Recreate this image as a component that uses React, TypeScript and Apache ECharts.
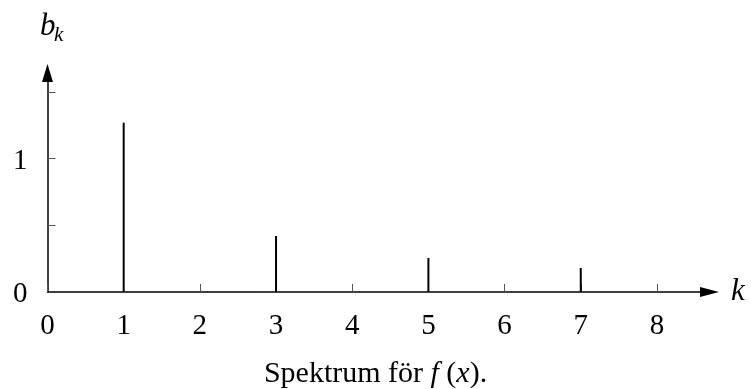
import React, { useEffect, useRef } from "react";
import * as echarts from "echarts";

const harmonics = [1, 3, 5, 7];
const amplitudes = [1.27, 0.42, 0.255, 0.18];
const xTickValues = [0, 1, 2, 3, 4, 5, 6, 7, 8];
const xLabelValues = [0, 1, 2, 3, 4, 5, 6, 7, 8];
const yTickValues = [0.5, 1, 1.5];
const yLabelValues = [0, 1];

const FONT = "Liberation Serif";

export default function App() {
  const ref = useRef<HTMLDivElement>(null);
  useEffect(() => {
    if (!ref.current) return;
    const chart = echarts.init(ref.current, undefined, { renderer: "svg" });
    chart.setOption({
      animation: false,
      grid: { left: 47.5, right: 41.5, top: 73, bottom: 97 },
      xAxis: {
        type: "value",
        min: 0,
        max: 8.69,
        axisLine: {
          show: true,
          onZero: true,
          symbol: ["none", "triangle"],
          symbolSize: [10, 19],
          lineStyle: { color: "#000", width: 1.5 },
        },
        axisTick: { show: true, inside: true, length: 8, customValues: xTickValues, lineStyle: { color: "#555", width: 1 } },
        axisLabel: { show: true, margin: 17, customValues: xLabelValues, fontFamily: FONT, fontSize: 29, color: "#000" },
        splitLine: { show: false },
      },
      yAxis: {
        type: "value",
        min: 0,
        max: 1.643,
        axisLine: {
          show: true,
          symbol: ["none", "triangle"],
          symbolSize: [11, 18],
          lineStyle: { color: "#000", width: 1.5 },
        },
        axisTick: { show: true, inside: true, length: 8, customValues: yTickValues, lineStyle: { color: "#555", width: 1 } },
        axisLabel: { show: true, margin: 20, customValues: yLabelValues, fontFamily: FONT, fontSize: 29, color: "#000" },
        splitLine: { show: false },
      },
      series: [
        {
          type: "bar",
          barWidth: 2,
          itemStyle: { color: "#000" },
          data: harmonics.map((k, i) => [k, amplitudes[i]]),
        },
      ],
      graphic: [
        { type: "text", left: 40, top: 9, style: { text: "b", fontFamily: FONT, fontStyle: "italic", fontSize: 31, fill: "#000" } },
        { type: "text", left: 54, top: 23, style: { text: "k", fontFamily: FONT, fontStyle: "italic", fontSize: 21, fill: "#000" } },
        { type: "text", left: 731, top: 274, style: { text: "k", fontFamily: FONT, fontStyle: "italic", fontSize: 31, fill: "#000" } },
      ],
      title: {
        text: "{n|Spektrum för }{i|f}{n| (}{i|x}{n|).}",
        left: "center",
        top: 351,
        textStyle: {
          rich: {
            n: { fontFamily: FONT, fontSize: 30, fontWeight: "normal", color: "#000" },
            i: { fontFamily: FONT, fontSize: 30, fontStyle: "italic", fontWeight: "normal", color: "#000" },
          },
        },
      },
    });
    return () => chart.dispose();
  }, []);
  return <div ref={ref} style={{ position: "fixed", left: 0, top: 0, width: 751, height: 389 }} />;
}
